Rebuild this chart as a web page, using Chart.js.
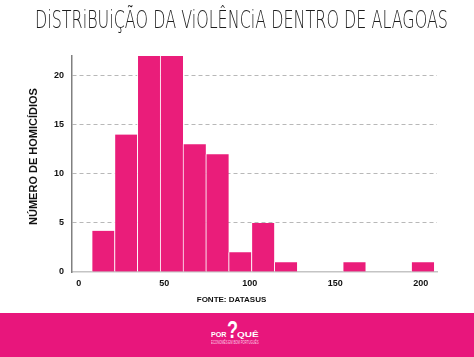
<!DOCTYPE html>
<html><head><meta charset="utf-8">
<script src="https://cdn.jsdelivr.net/npm/chart.js@4/dist/chart.umd.min.js"></script>
<style>
html,body{margin:0;padding:0;background:#fff;}
#wrap{position:relative;width:474px;height:357px;overflow:hidden;background:#fff;}
#cv{position:absolute;left:0;top:0;}
.t{position:absolute;white-space:nowrap;line-height:1;transform-origin:0 0;}
#title{top:8px;left:0;font-family:"DejaVu Sans ExtraLight","DejaVu Sans",sans-serif;font-weight:200;font-size:24.5px;color:#1e1e1e;}
#band{position:absolute;left:0;top:313px;width:474px;height:44px;background:#e8167c;}
#q{font-family:"Liberation Sans",Arial,sans-serif;font-weight:bold;font-size:23px;color:#fff;top:5.5px;}
#por,#que{font-family:"Liberation Sans",Arial,sans-serif;font-weight:bold;font-size:8px;color:#fff;top:18px;}
#tag{font-family:"Liberation Sans Narrow",sans-serif;font-size:4.5px;color:#fbd3e6;top:28px;}
</style></head>
<body>
<div id="wrap">
<canvas id="cv" width="474" height="313"></canvas>
<div id="title" class="t">DiSTRiBUiÇÃO DA ViOLÊNCiA DENTRO DE ALAGOAS</div>
<div id="band">
  <div id="q" class="t">?</div>
  <div id="por" class="t">POR</div>
  <div id="que" class="t">QUÊ</div>
  <div id="tag" class="t">ECONOMÊS EM BOM PORTUGUÊS</div>
</div>
</div>
<script>
const bins = [14.2, 27.55, 40.9, 54.25, 67.6, 80.95, 94.3, 107.65, 121.0, 134.35, 147.7, 161.05, 174.4, 187.75, 201.1];
const counts = [4.2, 14, 22, 22, 13, 12, 2, 5, 1, 0, 0, 1, 0, 0, 1];
const xTicks = [0, 50, 100, 150, 200];
const yTicks = [0, 5, 10, 15, 20];
const yTitle = "NÚMERO DE HOMICÍDIOS";
const xTitle = "FONTE: DATASUS";

function fit(id, left, width){
  const el = document.getElementById(id);
  const w = el.getBoundingClientRect().width;
  el.style.left = left + 'px';
  el.style.transform = 'scaleX(' + (width / w) + ')';
}
fit('title', 35, 413);
fit('q', 226.5, 11);
fit('por', 210.7, 15.5);
fit('que', 236.7, 21.6);
fit('tag', 210.7, 47.6);

const textPlugin = {
  id: 'txt',
  afterDraw(chart){
    const c = chart.ctx;
    c.save();
    c.fillStyle = '#111';
    c.textAlign = 'center';
    c.textBaseline = 'middle';
    c.font = 'bold 11px "Liberation Sans", Arial, sans-serif';
    c.translate(33.5, 156.5);
    c.rotate(-Math.PI/2);
    c.fillText(yTitle, 0, 0);
    c.restore();
    c.save();
    c.fillStyle = '#111';
    c.textAlign = 'center';
    c.textBaseline = 'middle';
    c.font = 'bold 8px "Liberation Sans", Arial, sans-serif';
    c.fillText(xTitle, 231.5, 299.5);
    c.restore();
  }
};

const tickFont = {family: '"Liberation Sans", Arial, sans-serif', size: 9, weight: 'bold'};

new Chart(document.getElementById('cv'), {
  type: 'bar',
  data: {
    datasets: [{
      data: bins.map((b, i) => ({x: b, y: counts[i]})),
      backgroundColor: '#ea1d7a',
      borderColor: 'rgba(255,255,255,0.85)',
      borderWidth: {left: 1, right: 0, top: 0, bottom: 0},
      borderSkipped: false,
      barPercentage: 1,
      categoryPercentage: 1
    }]
  },
  options: {
    responsive: false,
    animation: false,
    devicePixelRatio: 1,
    layout: {padding: {left: 0, right: 37, top: 56, bottom: 0}},
    plugins: {legend: {display: false}, tooltip: {enabled: false}, title: {display: false}},
    scales: {
      x: {
        type: 'linear',
        min: -4,
        max: 209.5,
        offset: false,
        grid: {display: false, drawTicks: false},
        border: {display: true, color: '#c4c4c4', width: 1.5},
        ticks: {font: tickFont, color: '#111', padding: 6, maxRotation: 0},
        afterBuildTicks: s => { s.ticks = xTicks.map(v => ({value: v})); },
        afterFit: s => { s.height = 41; }
      },
      y: {
        min: 0,
        max: 22,
        grid: {
          color: ctx => (ctx.tick && ctx.tick.value === 0) ? 'rgba(0,0,0,0)' : '#b8b8b8',
          drawTicks: false,
          lineWidth: 1
        },
        border: {display: true, color: '#808080', width: 1.5, dash: [4, 3]},
        ticks: {font: tickFont, color: '#111', padding: 8},
        afterBuildTicks: s => { s.ticks = yTicks.map(v => ({value: v})); },
        afterFit: s => { s.width = 72; }
      }
    }
  },
  plugins: [textPlugin]
});
</script>
</body></html>
